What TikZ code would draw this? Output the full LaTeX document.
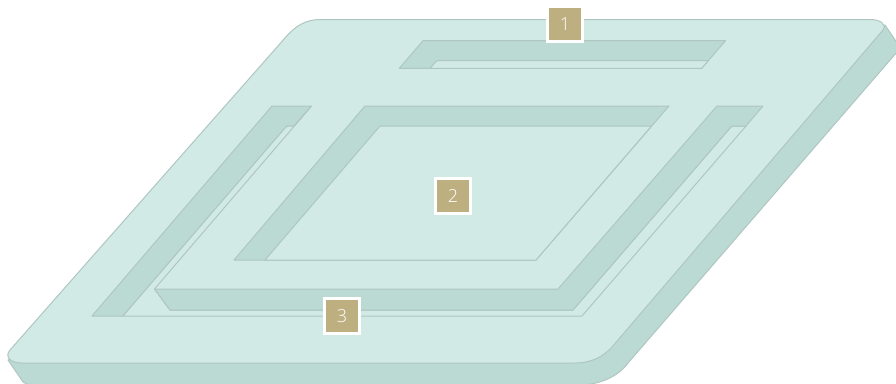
\documentclass[tikz,border=0pt]{standalone}
\usepackage{fontspec}
\setmainfont{Open Sans Light}
\definecolor{topc}{HTML}{D1EAE6}
\definecolor{wallc}{HTML}{BBDAD4}
\definecolor{linec}{HTML}{AFC6C1}
\definecolor{tanc}{HTML}{BDAF80}
\tikzset{
  surface/.style={fill=topc,draw=linec,line width=1pt,line join=round},
  wall/.style={fill=wallc,draw=linec,line width=1pt,line join=round},
  floorp/.style={fill=topc,draw=linec,line width=1pt,line join=round},
  badge/.style={fill=tanc,draw=white,line width=3pt,minimum size=35pt,inner sep=0pt,text=white,font=\fontsize{18}{18}\selectfont}
}
\begin{document}
\begin{tikzpicture}[x=1pt,y=-1pt]
\useasboundingbox (0,0) rectangle (896,383);
\clip (0,0) rectangle (896,383);
% slab side
\path[wall] (8,360) -- (23,382) .. controls (25,384) and (28,384.5) .. (32,384.5)
  -- (588,384.5) .. controls (600,383) and (618,377) .. (628,363) -- (900.5,48) -- (885,25) -- cycle;
% slab top
\path[surface] (320,19.5) -- (870,19.5) .. controls (880,19.5) and (887,24) .. (883,30)
  -- (612,347) .. controls (604,356) and (592,363) .. (575,363)
  -- (22,363) .. controls (11,363) and (4,357) .. (10,350)
  -- (285,38) .. controls (295,26) and (306,19.5) .. (320,19.5) -- cycle;
% recess at the top
\path[wall] (423,40.7) -- (725.5,40.7) -- (701.7,68.3) -- (399.3,68.3) -- cycle;
\path[floorp] (430,68.3) -- (436,61.5) .. controls (436.7,60.9) and (437.3,60.7) .. (438,60.7)
  -- (708.3,60.7) -- (701.7,68.3) -- cycle;
% centre recess
\path[wall] (365,106) -- (669,106) -- (536,260) -- (234,260) -- cycle;
\path[floorp] (380,126) -- (651.5,126) -- (536,260) -- (265,260) -- cycle;
% surrounding channel
\path[wall] (272,106) -- (311.5,106) -- (294,126) -- (287,126) -- (123,316) -- (92,316) -- cycle;
\path[floorp] (123,316) -- (285,128) .. controls (286,126.5) and (287,126) .. (289,126)
  -- (294.5,126) -- (311.5,106) -- (154.5,289) -- (170,310) -- (573,310)
  -- (730,128) .. controls (731,126.5) and (732,126) .. (734,126)
  -- (746,126) -- (582,316) -- cycle;
\path[wall] (717,106) -- (763,106) -- (746,126) -- (734,126)
  .. controls (732,126) and (731,126.5) .. (730,128)
  -- (573,310) -- (170,310) -- (154.5,289) -- (558,289) -- cycle;
% badges
\node[badge] (one) at (565,24) {1};
\node[badge] (two) at (453,195.5) {2};
\node[badge] (three) at (342,316) {3};
\end{tikzpicture}
\end{document}
